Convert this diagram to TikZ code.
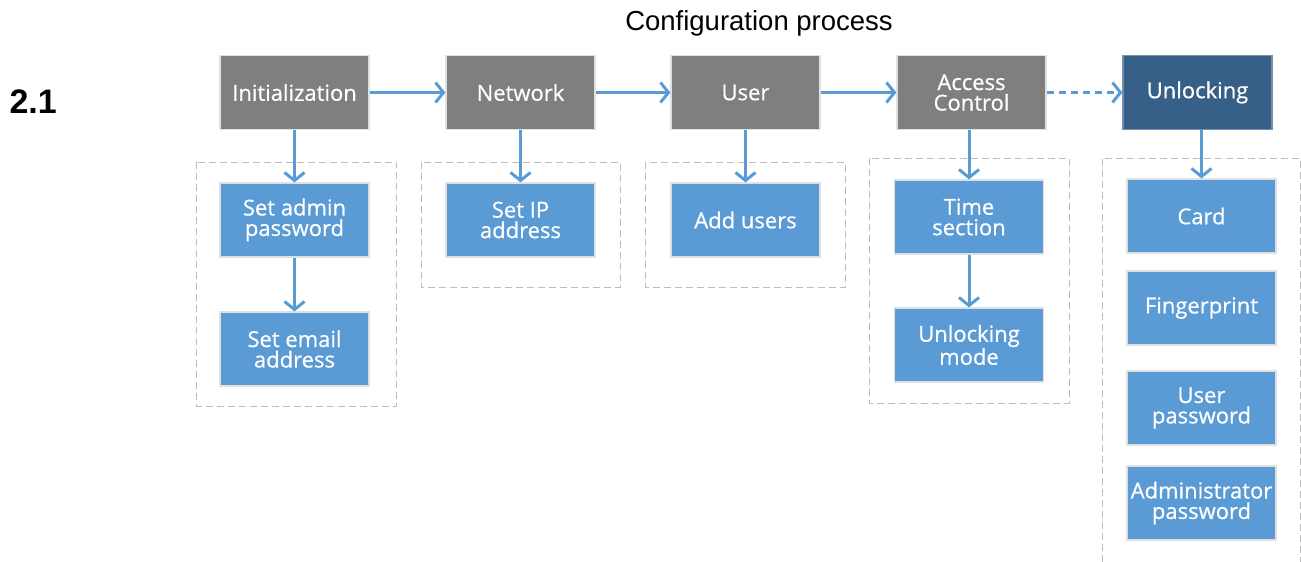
\documentclass[tikz,border=0pt]{standalone}
\usepackage{fontspec}
\setmainfont{Open Sans}
\newfontfamily\boxfont{Open Sans}[UprightFeatures={FakeBold=0.5}]
\newfontfamily\arialfont{Liberation Sans}
\usetikzlibrary{arrows.meta}
\definecolor{stagegray}{HTML}{7F7F7F}
\definecolor{stepblue}{HTML}{5B9BD5}
\definecolor{darkstage}{HTML}{376089}
\definecolor{framegray}{HTML}{BDBDBD}
\tikzset{
  basebox/.style={rectangle, minimum width=149pt, minimum height=74pt, inner sep=2pt,
    text=white, align=center, font=\boxfont\fontsize{22}{20.5}\selectfont,
    draw=black!12, line width=1.2pt},
  stagebox/.style={basebox, fill=stagegray},
  finalbox/.style={basebox, fill=darkstage, draw=darkstage!70},
  stepbox/.style={basebox, fill=stepblue},
  flow/.style={draw=stepblue, line width=3pt,
    -{Straight Barb[length=8pt, width=20pt, line width=3pt]}},
  groupframe/.style={draw=framegray, line width=0.9pt, dash pattern=on 7pt off 4pt},
}
\begin{document}
\begin{tikzpicture}[x=1pt, y=-1pt]
\useasboundingbox (0,0) rectangle (1301,562);

% heading and section number
\node[font=\arialfont\fontsize{27.5}{30}\selectfont] (title) at (759,23.5) {Configuration process};
\node[font=\arialfont\bfseries\fontsize{34}{36}\selectfont, anchor=west] (num) at (6,102) {2.1};

% dashed group frames
\draw[groupframe] (196.5,162) rectangle (396.5,406);
\draw[groupframe] (421,162) rectangle (620,287);
\draw[groupframe] (645.5,162) rectangle (845,287);
\draw[groupframe] (869,158) rectangle (1069,403);
\draw[groupframe] (1102,562) -- (1102,158) -- (1300,158) -- (1300,562);

% main stages
\node[stagebox] (init) at (294.5,92.5) {Initialization};
\node[stagebox] (net)  at (520.5,92.5) {Network};
\node[stagebox] (user) at (745.5,92.5) {User};
\node[stagebox] (acc)  at (971.5,92.5) {Access\\Control};
\node[finalbox] (unl)  at (1197.5,92.5) {Unlocking};

% steps under each stage
\node[stepbox] (admin) at (294.5,220) {Set admin\\password};
\node[stepbox] (email) at (294.5,349) {Set email\\address};
\node[stepbox] (ip)    at (520.5,220) {Set IP\\address};
\node[stepbox] (add)   at (745.5,220) {Add users};
\node[stepbox] (time)  at (969,217) {Time\\section};
\node[stepbox] (mode)  at (969,345) {Unlocking\\mode};
\node[stepbox] (card)  at (1201.5,216) {Card};
\node[stepbox] (finger) at (1201.5,308) {Fingerprint};
\node[stepbox] (upw)   at (1201.5,408) {User\\password};
\node[stepbox] (apw)   at (1201.5,503) {Administrator\\password};

% horizontal flow
\draw[flow] (init.east) -- (net.west);
\draw[flow] (net.east) -- (user.west);
\draw[flow] (user.east) -- (acc.west);
\draw[flow, dash pattern=on 7pt off 5pt] (acc.east) -- (unl.west);

% vertical flow
\draw[flow] (init.south) -- (admin.north);
\draw[flow] (admin.south) -- (email.north);
\draw[flow] (net.south -| ip.north) -- (ip.north);
\draw[flow] (user.south -| add.north) -- (add.north);
\draw[flow] (acc.south -| time.north) -- (time.north);
\draw[flow] (time.south) -- (mode.north);
\draw[flow] (unl.south -| card.north) -- (card.north);
\end{tikzpicture}
\end{document}
